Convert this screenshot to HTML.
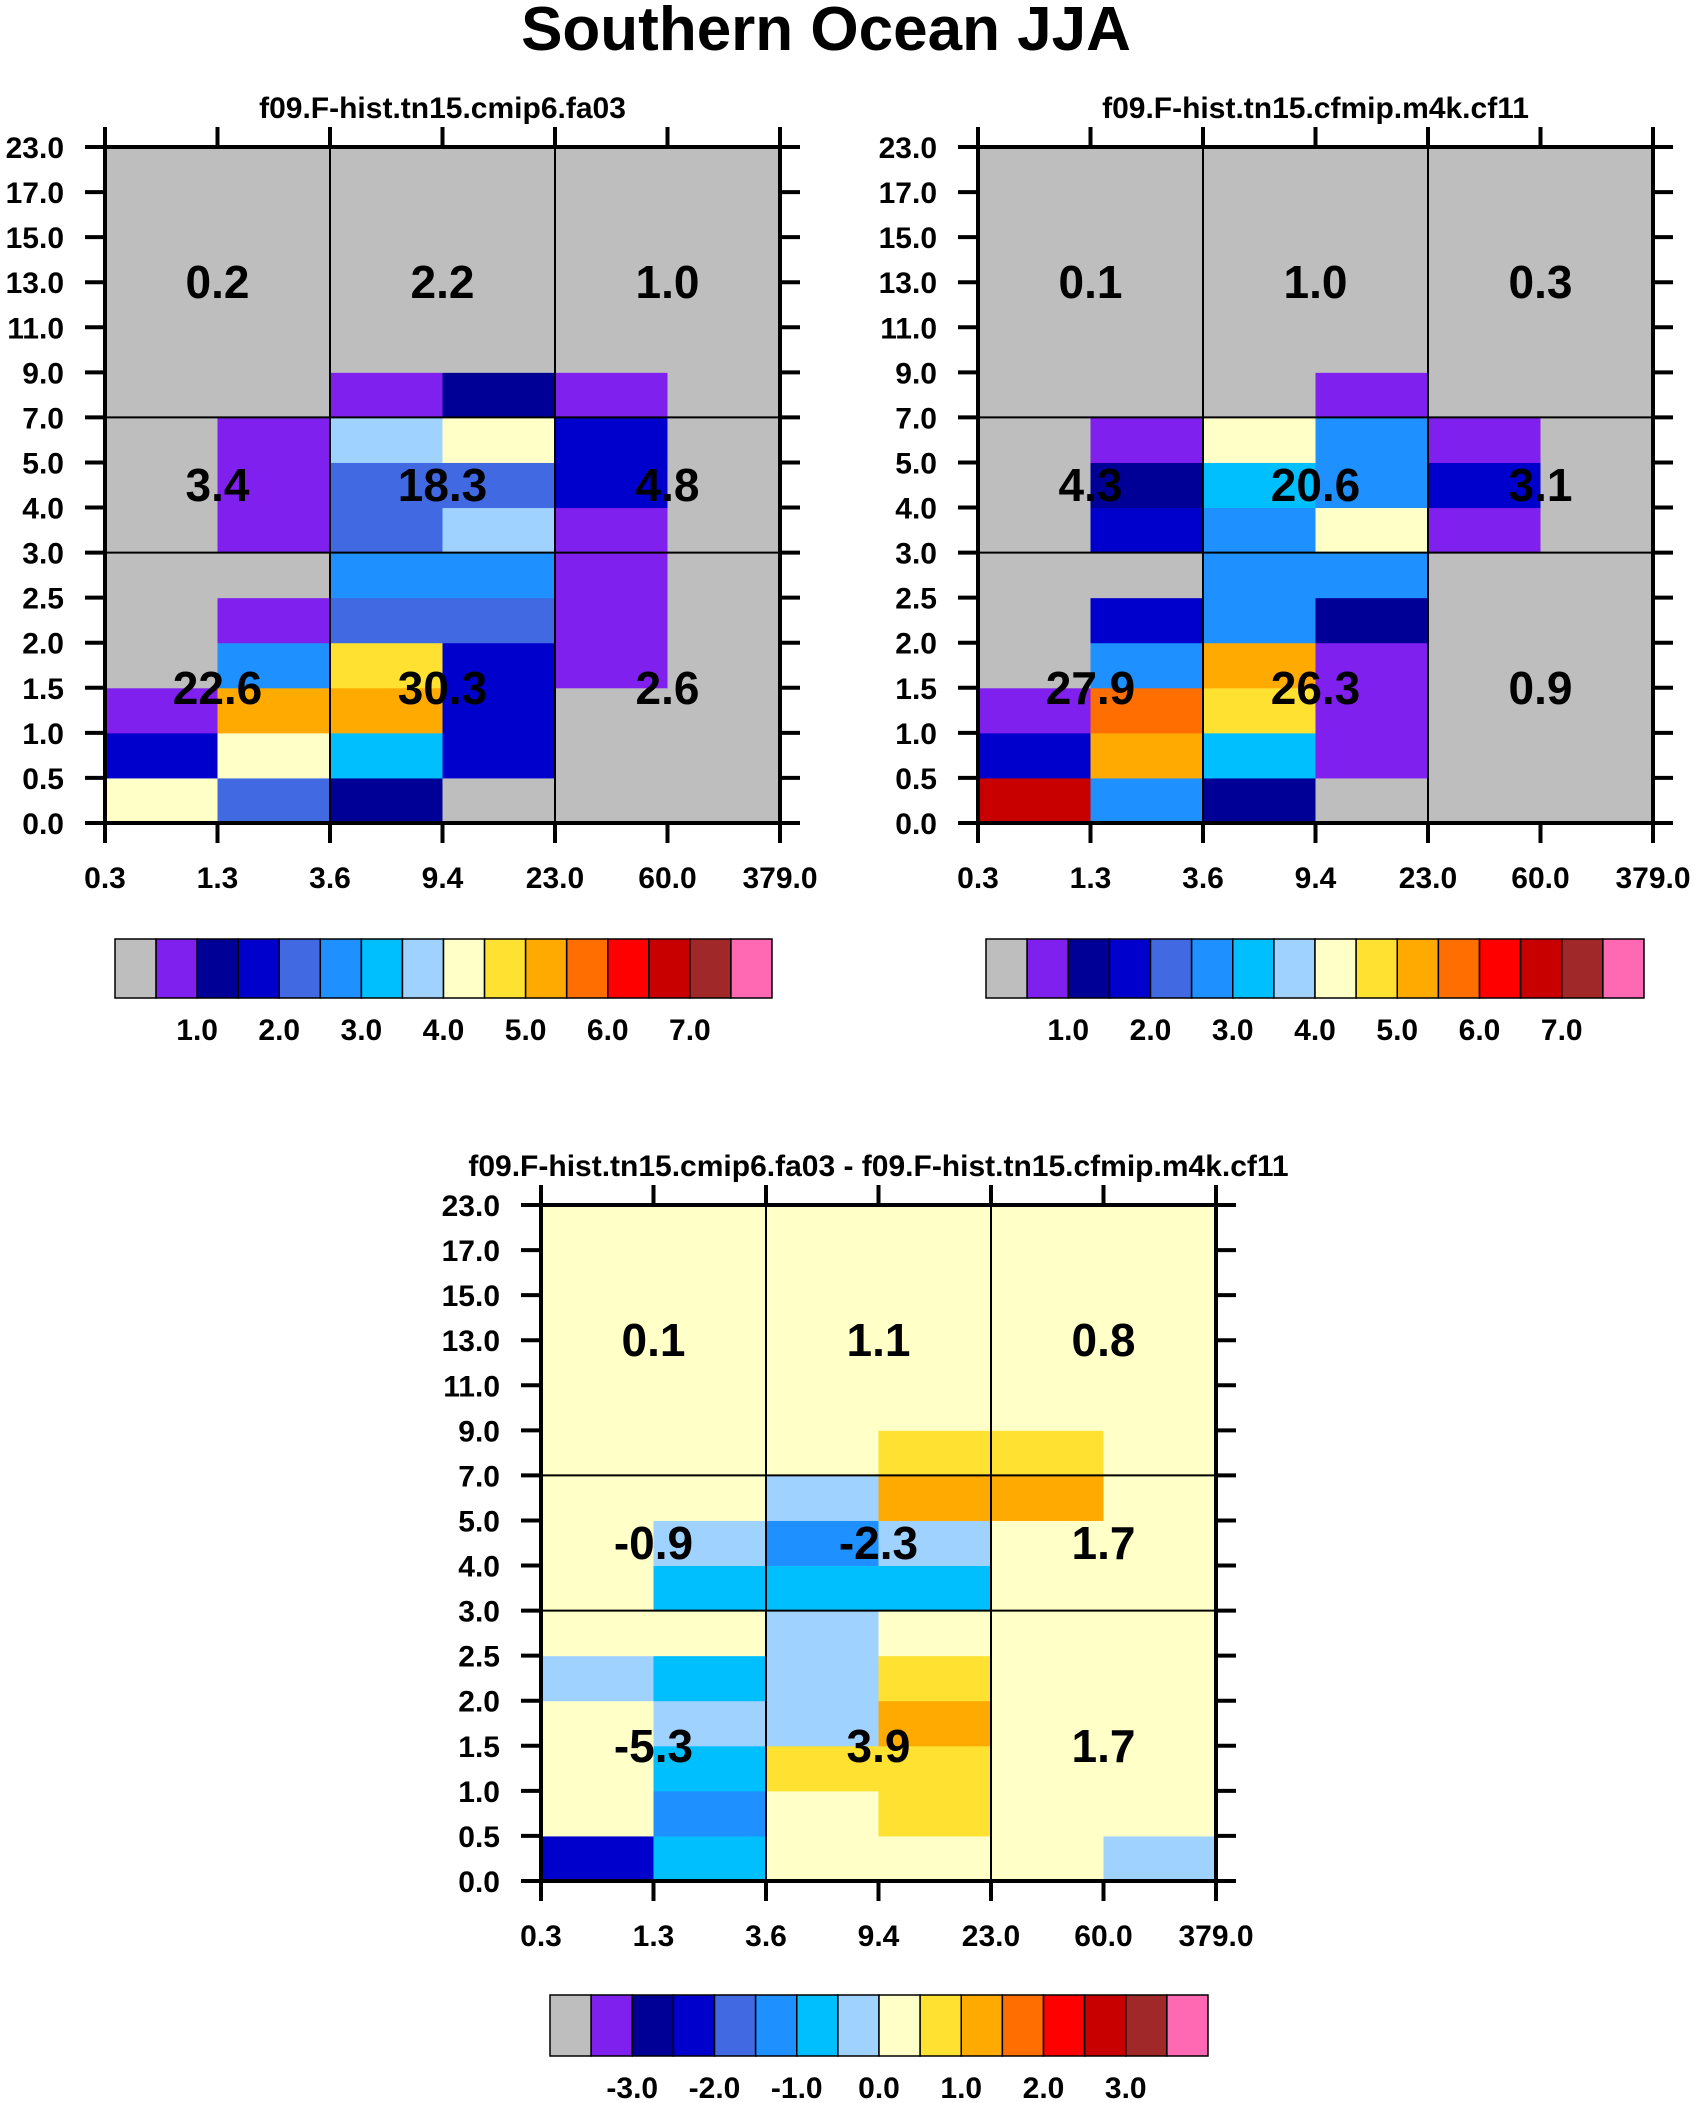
<!DOCTYPE html>
<html><head><meta charset="utf-8"><style>
html,body{margin:0;padding:0;background:#fff;}
svg{display:block;font-family:"Liberation Sans",Arial,sans-serif;font-weight:bold;}
</style></head><body>
<svg id="c" width="1696" height="2103" viewBox="0 0 1696 2103" xmlns="http://www.w3.org/2000/svg">
<text x="826" y="50" text-anchor="middle" font-size="62">Southern Ocean JJA</text>
</svg>
<script>
const palette=["#bebebe","#8020ee","#000096","#0000cd","#4169e1","#1e90ff","#00bfff","#a0d2ff","#ffffc8","#ffe132","#ffaa00","#ff6e00","#ff0000","#c80000","#a02828","#ff69b4"];
const xTickLabels=["0.3","1.3","3.6","9.4","23.0","60.0","379.0"];
const yTickLabels=["0.0","0.5","1.0","1.5","2.0","2.5","3.0","4.0","5.0","7.0","9.0","11.0","13.0","15.0","17.0","23.0"];
// color index per cell, rows from bottom (0-0.5) upward, 6 columns
const cells1=[[8,4,2,0,0,0],[3,8,6,3,0,0],[1,10,10,3,0,0],[0,5,9,3,1,0],[0,1,4,4,1,0],[0,0,5,5,1,0],[0,1,4,7,1,0],[0,1,4,4,3,0],[0,1,7,8,3,0],[0,0,1,2,1,0],[0,0,0,0,0,0],[0,0,0,0,0,0],[0,0,0,0,0,0],[0,0,0,0,0,0],[0,0,0,0,0,0]];
const cells2=[[13,5,2,0,0,0],[3,10,6,1,0,0],[1,11,9,1,0,0],[0,5,10,1,0,0],[0,3,5,2,0,0],[0,0,5,5,0,0],[0,3,5,8,1,0],[0,2,6,5,3,0],[0,1,8,5,1,0],[0,0,0,1,0,0],[0,0,0,0,0,0],[0,0,0,0,0,0],[0,0,0,0,0,0],[0,0,0,0,0,0],[0,0,0,0,0,0]];
const cells3=[[3,6,8,8,8,7],[8,5,8,9,8,8],[8,6,9,9,8,8],[8,7,7,10,8,8],[7,6,7,9,8,8],[8,8,7,8,8,8],[8,6,6,6,8,8],[8,7,5,7,8,8],[8,8,7,10,10,8],[8,8,8,9,9,8],[8,8,8,8,8,8],[8,8,8,8,8,8],[8,8,8,8,8,8],[8,8,8,8,8,8],[8,8,8,8,8,8]];
// block totals: rows top, middle, bottom; columns left, center, right
const totals1=[["0.2","2.2","1.0"],["3.4","18.3","4.8"],["22.6","30.3","2.6"]];
const totals2=[["0.1","1.0","0.3"],["4.3","20.6","3.1"],["27.9","26.3","0.9"]];
const totals3=[["0.1","1.1","0.8"],["-0.9","-2.3","1.7"],["-5.3","3.9","1.7"]];
const cbLabels12=["1.0","2.0","3.0","4.0","5.0","6.0","7.0"];
const cbLabels3=["-3.0","-2.0","-1.0","0.0","1.0","2.0","3.0"];

const svg=document.getElementById('c');
const NS="http://www.w3.org/2000/svg";
function mk(tag,attrs,parent){const e=document.createElementNS(NS,tag);for(const k in attrs)e.setAttribute(k,attrs[k]);(parent||svg).appendChild(e);return e;}

function plot(px,py,cells,totals,title,name){
  const W=675,H=676,nc=6,nr=15,cw=W/nc,rh=H/nr;
  const xs=i=>px+i*cw, ys=j=>py+H-j*rh;
  const g=mk('g',{});
  
  
  const t=mk('text',{x:px+W/2,y:py-29,'text-anchor':'middle','font-size':30},g);
  t.textContent=title;
  
  
  cells.forEach((row,j)=>row.forEach((ci,i)=>{
    const r=mk('rect',{x:xs(i),y:ys(j+1),width:cw+0.5,height:rh+0.5,fill:palette[ci]},g);
    
    
  }));
  [2,4].forEach(i=>mk('line',{x1:xs(i),x2:xs(i),y1:py,y2:py+H,stroke:'#000','stroke-width':2},g));
  [6,9].forEach(j=>mk('line',{x1:px,x2:px+W,y1:ys(j),y2:ys(j),stroke:'#000','stroke-width':2},g));
  mk('rect',{x:px,y:py,width:W,height:H,fill:'none',stroke:'#000','stroke-width':4},g);
  xTickLabels.forEach((l,i)=>{
    mk('line',{x1:xs(i),x2:xs(i),y1:py+H,y2:py+H+20,stroke:'#000','stroke-width':4},g);
    mk('line',{x1:xs(i),x2:xs(i),y1:py,y2:py-20,stroke:'#000','stroke-width':4},g);
    const tl=mk('text',{x:xs(i),y:py+H+65,'text-anchor':'middle','font-size':30},g);
    tl.textContent=l;
    
    
  });
  yTickLabels.forEach((l,j)=>{
    mk('line',{x1:px,x2:px-20,y1:ys(j),y2:ys(j),stroke:'#000','stroke-width':4},g);
    mk('line',{x1:px+W,x2:px+W+20,y1:ys(j),y2:ys(j),stroke:'#000','stroke-width':4},g);
    const tl=mk('text',{x:px-41,y:ys(j)+11,'text-anchor':'end','font-size':30},g);
    tl.textContent=l;
    
    
  });
  const rowsY=[12,7.5,3];
  totals.forEach((row,r)=>row.forEach((v,c)=>{
    const tt=mk('text',{x:xs(1+2*c),y:ys(rowsY[r])+16,'text-anchor':'middle','font-size':46},g);
    tt.textContent=v;
    
    
  }));
}
function colorbar(x0,x1,y0,y1,ly,labels,name){
  const g=mk('g',{});
  
  
  const bw=(x1-x0)/palette.length;
  palette.forEach((c,k)=>{
    const r=mk('rect',{x:x0+k*bw,y:y0,width:bw,height:y1-y0,fill:c,stroke:'#000','stroke-width':1.5},g);
    
    
  });
  labels.forEach((l,k)=>{
    const t=mk('text',{x:x0+(2+2*k)*bw,y:ly+10,'text-anchor':'middle','font-size':30},g);
    t.textContent=l;
    
    
  });
}
plot(105,147,cells1,totals1,"f09.F-hist.tn15.cmip6.fa03","panel-cmip6");
plot(978,147,cells2,totals2,"f09.F-hist.tn15.cfmip.m4k.cf11","panel-m4k");
plot(541,1205,cells3,totals3,"f09.F-hist.tn15.cmip6.fa03 - f09.F-hist.tn15.cfmip.m4k.cf11","panel-difference");
colorbar(115,772,939,998,1030,cbLabels12,"colorbar-cmip6");
colorbar(986,1644,939,998,1030,cbLabels12,"colorbar-m4k");
colorbar(550,1208,1995,2056,2088,cbLabels3,"colorbar-difference");
</script>
</body></html>
